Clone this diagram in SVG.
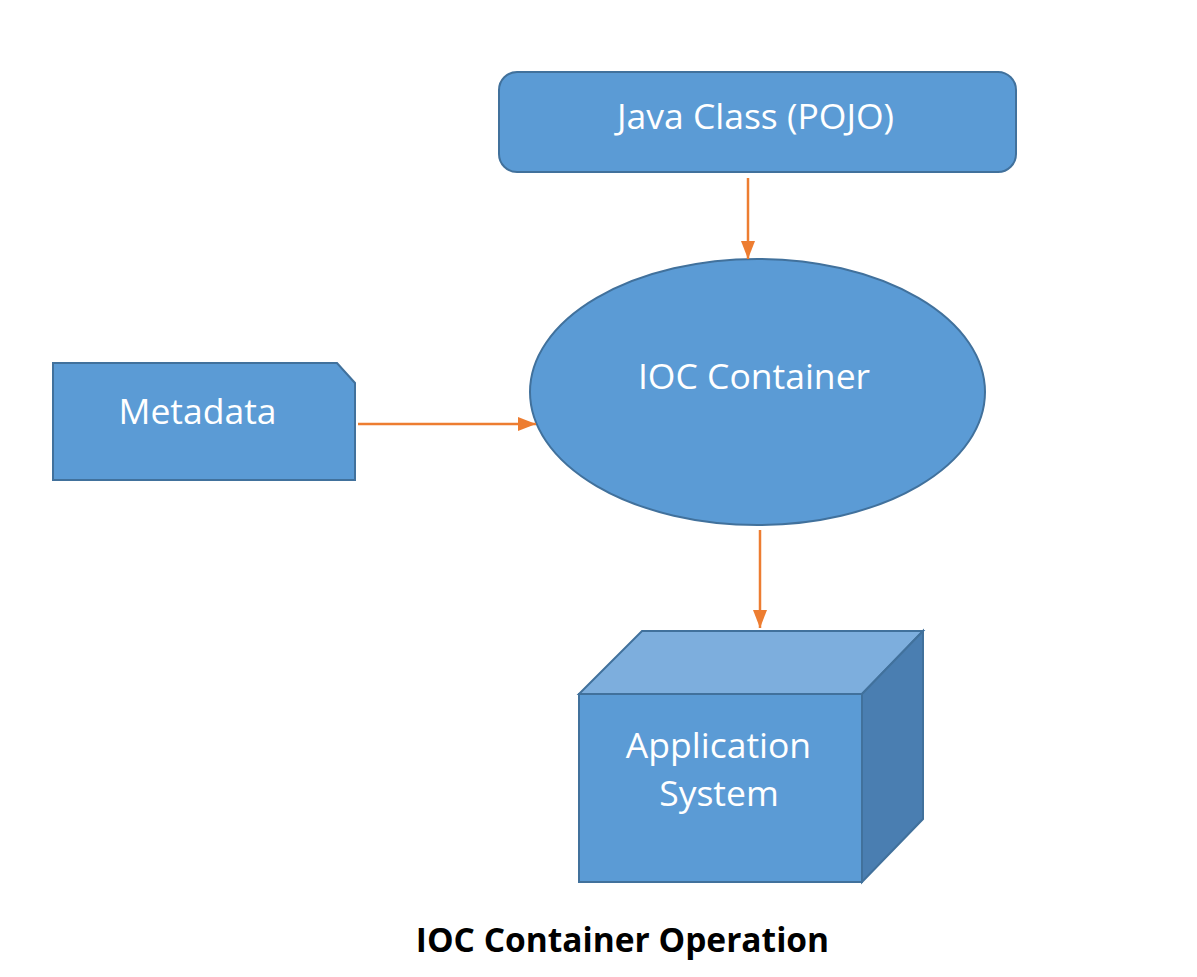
<svg xmlns="http://www.w3.org/2000/svg" width="1197" height="977" viewBox="0 0 1197 977">
<style>
.shape{fill:#5B9BD5;stroke:#41719C;stroke-width:2}
.lbl{fill:#FFFFFF;font-family:"Open Sans",Lato,"Liberation Sans",sans-serif;font-size:35.5px;text-anchor:middle}
.edge{stroke:#ED7D31;stroke-width:2.5;fill:none;marker-end:url(#arr)}
.cap{fill:#000;font-family:"Open Sans",Lato,"Liberation Sans",sans-serif;font-size:33.5px;font-weight:bold;text-anchor:middle}
</style>
<defs>
<marker id="arr" viewBox="0 0 18 14" refX="18" refY="7" markerWidth="18" markerHeight="14" markerUnits="userSpaceOnUse" orient="auto">
<path d="M0,0 L18,7 L0,14 z" fill="#ED7D31"/>
</marker>
</defs>
<rect width="1197" height="977" fill="#FFFFFF"/>
<g id="java-class">
<rect class="shape" x="499" y="72" width="517" height="100" rx="18"/>
<text class="lbl" x="755.5" y="129">Java Class (POJO)</text>
</g>
<g id="ioc-container">
<ellipse class="shape" cx="757.5" cy="392" rx="227.5" ry="133"/>
<text class="lbl" x="754" y="389">IOC Container</text>
</g>
<g id="metadata">
<path class="shape" d="M53,363 L337,363 L355,383 L355,480 L53,480 Z"/>
<text class="lbl" x="197.5" y="424">Metadata</text>
</g>
<g id="application-system">
<path class="shape" d="M579,694 L642,631 L923,631 L862,694 Z" style="fill:#7DAEDD"/>
<path class="shape" d="M862,694 L923,631 L923,819 L862,882 Z" style="fill:#4A7EB1"/>
<rect class="shape" x="579" y="694" width="283" height="188"/>
<text class="lbl" x="718.5" y="758">Application</text>
<text class="lbl" x="719" y="806">System</text>
</g>
<g id="connectors">
<line class="edge" x1="748" y1="178" x2="748" y2="259"/>
<line class="edge" x1="358" y1="424" x2="536" y2="424"/>
<line class="edge" x1="760" y1="530" x2="760" y2="628"/>
</g>
<g id="caption">
<text class="cap" x="622.5" y="952">IOC Container Operation</text>
</g>
</svg>
